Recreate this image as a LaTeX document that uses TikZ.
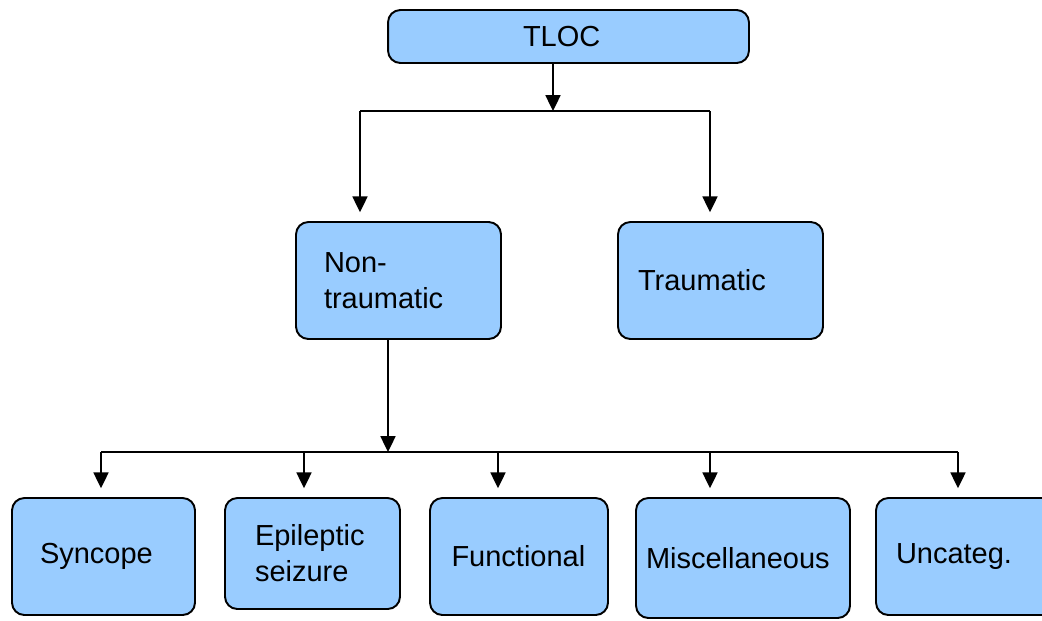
\documentclass[tikz,border=0pt]{standalone}
\usepackage{fontspec}
\setmainfont{Liberation Sans}
\usetikzlibrary{arrows.meta}
\definecolor{boxblue}{RGB}{153,204,255}

\begin{document}
\begin{tikzpicture}[x=0.02cm, y=-0.02cm,
		box/.style={draw, fill=boxblue, line width=1.1pt, rounded corners=7pt, align=left,
			minimum height=2.34cm, font=\fontsize{16.5pt}{20.5pt}\selectfont},
		wire/.style={line width=1.1pt},
		arr/.style={wire, -{Triangle[length=9pt, width=8.5pt]}},
		gap/.style={shorten >=5pt}]
		\useasboundingbox (0, 0) rectangle (1042, 620);

		\node[box, text width=1.82cm, inner xsep=2.7cm, minimum height=1.06cm] (tloc) at (568.5, 36.5) {TLOC};

		\node[box, text width=2.98cm, inner xsep=0.56cm] (nontr) at (398.5, 280.5) {Non-\\traumatic};
		\node[box, text width=3.3cm, inner xsep=0.4cm] (traum) at (720.5, 280.5) {Traumatic};

		\node[box, text width=2.54cm, inner xsep=0.56cm] (sync) at (103.5, 556.5) {Syncope};
		\node[box, text width=2.3cm, inner xsep=0.6cm, minimum height=2.22cm] (epil) at (312.5, 553.5) {Epileptic\\seizure};
		\node[box, text width=2.7cm, inner xsep=0.43cm] (func) at (519, 556.5) {Functional};
		\node[box, text width=3.88cm, inner xsep=0.2cm, minimum height=2.4cm] (misc) at (743, 558) {Miscellaneous};
		\node[box, text width=2.8cm, inner xsep=0.4cm] (unc) at (966, 556.5) {Uncateg.};

		\coordinate (top) at (553, 111);
		\coordinate (lt) at (360, 111);
		\coordinate (rt) at (710, 111);
		\draw[arr] (tloc.south -| top) -- (top);
		\draw[wire] (lt) -- (rt);
		\draw[arr, gap] (lt) -- (lt |- nontr.north);
		\draw[arr, gap] (rt) -- (rt |- traum.north);

		\coordinate (mid) at (388, 452);
		\coordinate (bl) at (101, 452);
		\coordinate (br) at (958, 452);
		\draw[arr] (nontr.south -| mid) -- (mid);
		\draw[wire] (bl) -- (br);

		\foreach \n/\x in {sync/101, epil/304, func/498, misc/710, unc/958} {
			\coordinate (d\n) at (\x, 452);
			\draw[arr, gap] (d\n) -- (d\n |- \n.north);
		}
	\end{tikzpicture}
\end{document}
